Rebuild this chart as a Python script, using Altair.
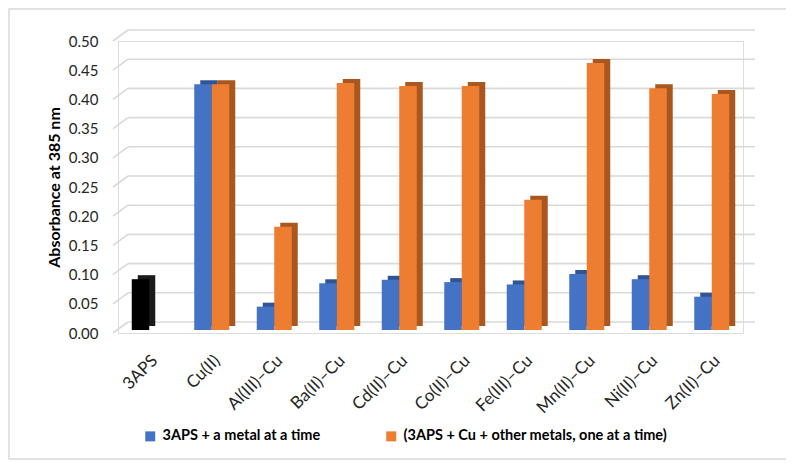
import altair as alt
import pandas as pd

categories = ["3APS", "Cu(II)", "Al(III)–Cu", "Ba(II)–Cu", "Cd(II)–Cu",
              "Co(II)–Cu", "Fe(III)–Cu", "Mn(II)–Cu", "Ni(II)–Cu", "Zn(II)–Cu"]
series_names = ["3APS + a metal at a time",
                "(3APS + Cu + other metals, one at a time)"]
series1 = [0.087, 0.421, 0.040, 0.080, 0.086, 0.082, 0.078, 0.096, 0.087, 0.057]
series2 = [None, 0.421, 0.177, 0.423, 0.418, 0.418, 0.223, 0.457, 0.414, 0.404]
y_ticks = [0.0, 0.05, 0.10, 0.15, 0.20, 0.25, 0.30, 0.35, 0.40, 0.45, 0.50]

rows = []
for c, v1, v2 in zip(categories, series1, series2):
    key1 = "3APS" if c == "3APS" else series_names[0]
    rows.append({"cat": c, "series": series_names[0], "key": key1, "value": v1})
    if v2 is not None:
        rows.append({"cat": c, "series": series_names[1], "key": series_names[1], "value": v2})
df = pd.DataFrame(rows)
grid_df = pd.DataFrame({"v": y_ticks})

keys = [series_names[0], series_names[1], "3APS"]
front_colors = ["#4472C4", "#ED7D31", "#000000"]
side_colors = ["#2F5597", "#A9571F", "#1a1a1a"]

W, H = 625, 292
FONT = "Lato"
BAND = 35  # pixel width of a category's bar group

yscale = alt.Scale(domain=[0, 0.5], nice=False)
xscale = alt.Scale(paddingInner=0.44, paddingOuter=0.22)

x_enc = alt.X("cat:N", sort=categories, scale=xscale,
              axis=alt.Axis(title=None, labelAngle=-45, labelFontSize=17,
                            labelFont=FONT, labelColor="#262626",
                            domain=False, ticks=False, labelPadding=19))
y_axis = alt.Axis(title="Absorbance at 385 nm", values=y_ticks,
                  format=".2f", grid=False, domain=False, ticks=False,
                  labelOverlap=False, labelBound=False,
                  labelFontSize=15, labelFont=FONT, labelColor="#262626",
                  labelPadding=20, titleFontSize=16, titleFont=FONT,
                  titleFontWeight="bold", titleColor="#000000",
                  titlePadding=6)
y_enc = alt.Y("value:Q", scale=yscale, axis=y_axis)

border = alt.Chart(pd.DataFrame({"a": [0]})).mark_rect(
    filled=False, stroke="#d9d9d9", strokeWidth=1.5
).encode(x=alt.value(-109), x2=alt.value(669), y=alt.value(-32), y2=alt.value(418))

grid_back = alt.Chart(grid_df).mark_rule(
    color="#d9d9d9", strokeWidth=1.6, yOffset=-11, y2Offset=-11
).encode(y=alt.Y("v:Q", scale=yscale, axis=y_axis), x=alt.value(10), x2=alt.value(637))

grid_diag = alt.Chart(grid_df).mark_rule(
    color="#d9d9d9", strokeWidth=1.6, yOffset=0, y2Offset=-11
).encode(y=alt.Y("v:Q", scale=yscale, axis=y_axis), y2="v:Q",
         x=alt.value(-5), x2=alt.value(10))

side = alt.Chart(df).mark_bar(
    yOffset=-7, y2Offset=-7
).encode(
    x=x_enc,
    xOffset=alt.XOffset("series:N", sort=series_names,
                        scale=alt.Scale(range=[6, BAND + 6])),
    y=y_enc,
    color=alt.Color("key:N", scale=alt.Scale(domain=keys, range=side_colors), legend=None),
)

front = alt.Chart(df).mark_bar(
    yOffset=-3, y2Offset=-3
).encode(
    x=x_enc,
    xOffset=alt.XOffset("series:N", sort=series_names,
                        scale=alt.Scale(range=[0, BAND])),
    y=y_enc,
    color=alt.Color("key:N", scale=alt.Scale(domain=keys, range=front_colors),
                    legend=alt.Legend(values=series_names, title=None, orient="none",
                                      legendX=25, legendY=388, direction="horizontal",
                                      symbolType="square", symbolSize=100,
                                      symbolStrokeWidth=0, labelFontSize=14.5,
                                      labelFont=FONT, labelFontWeight="bold",
                                      labelColor="#000000", labelLimit=500,
                                      labelOffset=5, columnPadding=63)),
)

chart = alt.layer(border, grid_back, grid_diag, side, front).resolve_scale(
    color="independent", xOffset="independent"
).properties(
    width=W, height=H,
    autosize=alt.AutoSizeParams(type="none"),
    padding={"left": 110, "top": 33, "right": 43, "bottom": 127},
).configure_view(stroke=None).configure(font=FONT)

chart.save("out.html", embed_options={"renderer": "svg", "actions": False})
